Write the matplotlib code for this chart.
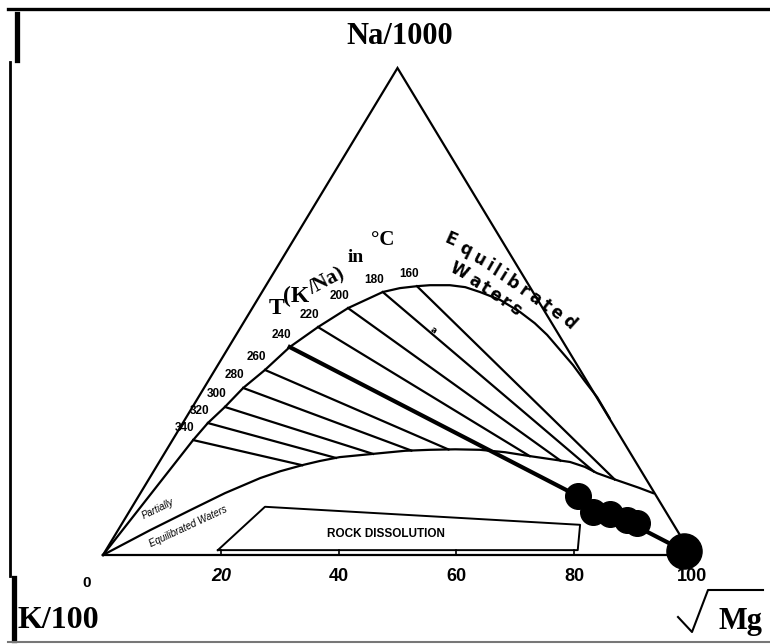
import matplotlib
matplotlib.use("Agg")
import matplotlib.pyplot as plt
import numpy as np
from matplotlib.lines import Line2D

# triangle coordinates: x along the base (sqrt Mg scale, 0-100), h = height (Na apex = 100)
full_eq_x = [0, 15.3, 17.8, 20.7, 23.8, 27.5, 31.7, 36.5, 41.6, 47.5, 50.4, 53.3, 55.5, 58.9, 61.5,
             64.0, 67.4, 70.8, 73.3, 75.4, 77.6, 79.8, 81.8, 83.9, 86.0]
full_eq_h = [0, 23.6, 27.1, 30.4, 34.3, 38.0, 42.7, 46.8, 50.7, 54.0, 54.8, 55.2, 55.4, 55.4, 55.0,
             54.0, 52.4, 49.9, 47.6, 45.2, 42.1, 39.0, 35.7, 32.4, 28.1]

partial_x = [0, 8.0, 14.8, 20.7, 26.7, 30.1, 34.0, 36.8, 40.2, 43.6, 47.0, 51.3, 55.5, 59.8, 64.0,
             68.3, 72.5, 75.9, 79.3, 81.8, 83.9, 86.2, 88.6, 91.0, 93.4]
partial_h = [0, 5.1, 9.2, 12.7, 15.8, 17.2, 18.5, 19.3, 20.1, 20.5, 20.9, 21.4, 21.6, 21.7, 21.6,
             21.1, 20.3, 19.7, 19.1, 18.1, 16.8, 15.8, 14.8, 13.8, 12.7]

temps = [340, 320, 300, 280, 260, 240, 220, 200, 180, 160]
tie_x = [15.3, 17.8, 20.7, 23.8, 27.5, 31.7, 36.5, 41.6, 47.5, 53.3]
tie_h = [23.6, 27.1, 30.4, 34.3, 38.0, 42.7, 46.8, 50.7, 54.0, 55.2]
thick_temp = 240

rock_x = [19.5, 27.5, 81.0, 80.6]
rock_h = [1.0, 9.9, 6.2, 1.0]

sample_x = [80.6, 83.2, 86.1, 89.0, 90.7]
sample_h = [12.1, 8.8, 8.4, 7.2, 6.6]
big_x = [98.6]
big_h = [0.8]

tick_vals = [0, 20, 40, 60, 80, 100]

W, H = 770, 644
fig = plt.figure(figsize=(7.7, 6.44), dpi=100)
ax = fig.add_axes([0, 0, 1, 1])
X0, SX, Y0, SY = 103, 5.89, 555, 4.87
ax.set_xlim((0 - X0) / SX, (W - X0) / SX)
ax.set_ylim((Y0 - H) / SY, Y0 / SY)
ax.axis('off')

lw = 1.6
# triangle
ax.plot([0, 50, 100, 0], [0, 100, 0, 0], color='black', lw=lw, solid_joinstyle='miter')
for t in tick_vals[1:-1]:
    ax.plot([t, t], [0, 1.1], color='black', lw=1.2)

# curves
ax.plot(full_eq_x, full_eq_h, color='black', lw=lw, solid_joinstyle='round')
ax.plot(partial_x, partial_h, color='black', lw=lw, solid_joinstyle='round')

# K/Na isotherms radiating from the Mg corner
px = np.array(partial_x)
ph = np.array(partial_h)
for T, sx, sh in zip(temps, tie_x, tie_h):
    s = np.linspace(0, 1, 3000)
    lx = sx + s * (100 - sx)
    lh = sh + s * (0 - sh)
    below = lh <= np.interp(lx, px, ph)
    k = np.argmax(below)
    if T == thick_temp:
        ax.plot([sx, 100], [sh, 0], color='black', lw=3.0)
    else:
        ax.plot([sx, lx[k]], [sh, lh[k]], color='black', lw=lw)
    ax.annotate(str(T), (sx, sh), xytext=(-6, 9), textcoords='offset points',
                ha='center', va='center', fontsize=8.5, fontweight='bold',
                family='Liberation Sans')

# rock dissolution box
ax.plot(rock_x + [rock_x[0]], rock_h + [rock_h[0]], color='black', lw=1.4)
ax.text(48.0, 4.4, 'ROCK DISSOLUTION', ha='center', va='center',
        fontsize=8.5, fontweight='bold', family='Liberation Sans')

# samples
ax.scatter(sample_x, sample_h, s=340, color='black', zorder=5)
ax.scatter(big_x, big_h, s=640, color='black', zorder=5)

# tick labels
for t in tick_vals:
    if t == 0:
        ax.text(-2.7, -5.8, '0', ha='center', va='center', fontsize=11,
                fontweight='bold', family='Liberation Sans')
    else:
        ax.text(t, -4.5, str(t), ha='center', va='center', fontsize=13,
                fontweight='bold', family='Liberation Sans',
                style='italic' if t == 20 else 'normal')


def ft(x, y, s, **kw):
    fig.text(x / W, 1 - y / H, s, **kw)


serif = dict(family='Liberation Serif', fontweight='bold')
ft(400, 36, 'Na/1000', ha='center', va='center', fontsize=22, **serif)
ft(18, 621, 'K/100', ha='left', va='center', fontsize=23, **serif)
ft(740, 622, 'Mg', ha='center', va='center', fontsize=22, **serif)
fig.add_artist(Line2D([678 / W, 692 / W, 708 / W, 763 / W],
                      [1 - 617 / H, 1 - 632 / H, 1 - 590 / H, 1 - 590 / H],
                      color='black', lw=1.5))

# T(K/Na) in oC
ft(277, 308, 'T', ha='center', va='center', fontsize=17, **serif)
ft(296, 296, '(K', ha='center', va='center', fontsize=17, **serif)
ft(327, 282, '/Na)', ha='center', va='center', fontsize=15, rotation=28, **serif)
ft(356, 258, 'in', ha='center', va='center', fontsize=14, **serif)
ft(383, 240, '°C', ha='center', va='center', fontsize=15, **serif)

# curved label along the equilibrium line (letter advance from bold sans widths)
adv = {'E': 667, 'q': 611, 'u': 611, 'i': 300, 'l': 300, 'b': 611, 'r': 420, 'a': 556,
       't': 380, 'e': 556, 'd': 611, 'W': 944, 's': 556}


def arc_text(word, p0, p1, r0, r1, size):
    w = np.array([adv[c] for c in word], float)
    centers = np.cumsum(w) - w / 2
    f = (centers - centers[0]) / (centers[-1] - centers[0])
    for ch, fi in zip(word, f):
        ft(p0[0] + fi * (p1[0] - p0[0]), p0[1] + fi * (p1[1] - p0[1]), ch,
           ha='center', va='center', fontsize=size, fontweight='bold',
           family='DejaVu Sans', rotation=r0 + fi * (r1 - r0))


arc_text('Equilibrated', (451, 240), (569, 322), -24, -42, 12)
arc_text('Waters', (459, 271), (515, 309), -28, -38, 12)
ft(433, 330, 'a', ha='center', va='center', fontsize=6, fontweight='bold', rotation=-30)

# partially equilibrated waters
ft(158, 509, 'Partially', ha='center', va='center', fontsize=7, style='italic',
   rotation=26, family='Liberation Sans')
ft(188, 527, 'Equilibrated Waters', ha='center', va='center', fontsize=7, style='italic',
   rotation=25, family='Liberation Sans')

# page frame
def fl(xs, ys, **kw):
    fig.add_artist(Line2D([x / W for x in xs], [1 - y / H for y in ys], **kw))


fl([8, 770], [9, 9], color='black', lw=2.4)
fl([17, 17], [14, 60], color='black', lw=3.8)
fl([10, 10], [62, 576], color='black', lw=2.0)
fl([14, 14], [578, 640], color='black', lw=3.8)
fl([8, 770], [642, 642], color='#777777', lw=1.5)

fig.savefig('out.png', dpi=100, facecolor='white')
